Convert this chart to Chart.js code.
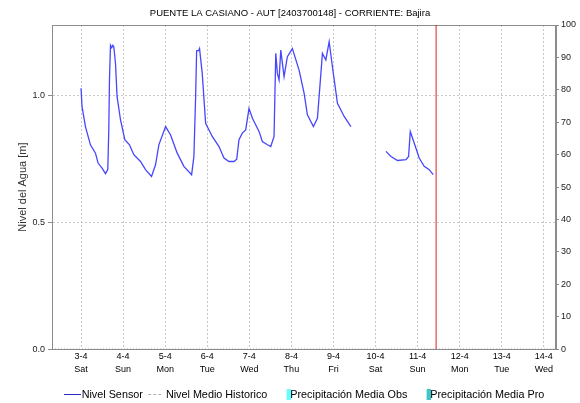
<!DOCTYPE html>
<html>
<head>
<meta charset="utf-8">
<title>Nivel Sensor - Puente La Casiano</title>
<script src="https://cdn.jsdelivr.net/npm/chart.js@4.4.1/dist/chart.umd.min.js"></script>
<style>
    html, body { margin: 0; padding: 0; background: #fff; }
    #chart-box { width: 580px; height: 403px; }
</style>
</head>
<body>
<div id="chart-box"><canvas id="nivelChart" width="580" height="403"></canvas></div>
<script>
// Etiquetas del eje X (un tick por dia, 0 = 3-4)
const dayLabels = ['3-4', '4-4', '5-4', '6-4', '7-4', '8-4', '9-4', '10-4', '11-4', '12-4', '13-4', '14-4'];
const weekDays = ['Sat', 'Sun', 'Mon', 'Tue', 'Wed', 'Thu', 'Fri', 'Sat', 'Sun', 'Mon', 'Tue', 'Wed'];
const dayMin = -0.69;
const dayMax = 11.29;

// Nivel sensor [m], x en dias desde 3-4
const sensorDays = [
    0.0, 0.024, 0.105, 0.224, 0.343, 0.405, 0.5, 0.581, 0.636, 0.66, 0.676, 0.7, 0.73, 0.755, 0.779, 0.819, 0.857, 0.938,
    1.04, 1.152, 1.255, 1.414, 1.533, 1.676, 1.771, 1.85, 2.01, 2.129, 2.286, 2.445, 2.629, 2.683, 2.724, 2.748, 2.80, 2.817,
    2.881, 2.962, 3.119, 3.279, 3.398, 3.517, 3.636, 3.70, 3.755, 3.833, 3.914, 3.993, 4.074, 4.231, 4.31, 4.431, 4.51, 4.588,
    4.629, 4.667, 4.707, 4.748, 4.826, 4.905, 5.024, 5.183, 5.302, 5.381, 5.524, 5.619, 5.738, 5.819, 5.898, 5.976, 6.095,
    6.255, 6.414, 6.8,
    7.248, 7.367, 7.524, 7.724, 7.786, 7.826, 7.921, 8.038, 8.157, 8.276, 8.371
];
const sensorLevels = [
    1.03, 0.958, 0.879, 0.807, 0.774, 0.735, 0.715, 0.693, 0.709, 0.866, 1.063, 1.20, 1.19, 1.20, 1.194, 1.129, 0.997, 0.906,
    0.827, 0.807, 0.768, 0.741, 0.709, 0.682, 0.728, 0.807, 0.879, 0.846, 0.774, 0.722, 0.689, 0.761, 0.997, 1.178, 1.18, 1.187,
    1.089, 0.892, 0.840, 0.800, 0.755, 0.741, 0.741, 0.75, 0.827, 0.853, 0.866, 0.951, 0.912, 0.860, 0.820, 0.807, 0.800, 0.840,
    1.168, 1.089, 1.063, 1.181, 1.076, 1.155, 1.187, 1.102, 1.011, 0.925, 0.879, 0.912, 1.168, 1.142, 1.214, 1.115, 0.971,
    0.919, 0.879, null,
    0.781, 0.761, 0.745, 0.748, 0.761, 0.859, 0.813, 0.755, 0.722, 0.709, 0.689
];

// Nivel medio historico [m]
const historicDays = [dayMin, dayMax];
const historicLevels = [0, 0];

// Precipitacion [mm] (sin datos en el periodo)
const precipObs = [];
const precipPro = [];

// Hora actual (linea roja)
const nowDay = 8.44;
const levelMax = 1.28;
const precipMax = 100;

const FONT = "'Liberation Sans', Arial, sans-serif";

function makeIcon(w, h, draw) {
    const c = document.createElement('canvas');
    c.width = w;
    c.height = h;
    draw(c.getContext('2d'));
    return c;
}

// iconos de 24px centrados en x+6; el hueco del icono va de x a x+18
const legendIcons = [
    makeIcon(24, 1, ctx => { ctx.fillStyle = '#2a2ad0'; ctx.fillRect(6, 0, 17, 1); }),
    makeIcon(24, 1, ctx => {
        ctx.fillStyle = '#b4b4b4';
        for (let i = 6; i < 20; i += 5) ctx.fillRect(i, 0, 3, 1);
    }),
    makeIcon(24, 11, ctx => { ctx.fillStyle = '#66ffff'; ctx.fillRect(20, 0, 4, 11); }),
    makeIcon(24, 11, ctx => { ctx.fillStyle = '#40c4c4'; ctx.fillRect(20, 0, 4, 11); })
];

// Marco del area de grafico
const framePlugin = {
    id: 'frame',
    beforeDatasetsDraw(chart) {
        const { ctx, chartArea: a } = chart;
        ctx.save();
        ctx.strokeStyle = '#8c8c8c';
        ctx.lineWidth = 1;
        ctx.strokeRect(Math.round(a.left) + 0.5, Math.round(a.top) + 0.5,
            Math.round(a.right - a.left) - 1, Math.round(a.bottom - a.top));
        ctx.restore();
    }
};

const ctx = document.getElementById('nivelChart').getContext('2d');
new Chart(ctx, {
    type: 'line',
    data: {
        datasets: [
            {
                label: 'Nivel Sensor',
                data: sensorDays.map((d, i) => ({ x: d, y: sensorLevels[i] })),
                borderColor: '#4646ff',
                borderWidth: 1.3,
                pointRadius: 0,
                tension: 0,
                spanGaps: false,
                yAxisID: 'y'
            },
            {
                label: 'Nivel Medio Historico',
                data: historicDays.map((d, i) => ({ x: d, y: historicLevels[i] })),
                borderColor: '#7a7a7a',
                borderWidth: 1,
                borderDash: [1, 2],
                pointRadius: 0,
                yAxisID: 'y'
            },
            {
                type: 'bar',
                label: 'Precipitación Media Obs',
                data: precipObs,
                backgroundColor: '#66ffff',
                yAxisID: 'y2'
            },
            {
                type: 'bar',
                label: 'Precipitación Media Pro',
                data: precipPro,
                backgroundColor: '#40c4c4',
                yAxisID: 'y2'
            },
            {
                label: '',
                data: [{ x: nowDay, y: 0 }, { x: nowDay, y: levelMax }],
                borderColor: '#e02020',
                borderWidth: 1,
                pointRadius: 0,
                yAxisID: 'y'
            }
        ]
    },
    options: {
        responsive: false,
        devicePixelRatio: 1,
        animation: false,
        layout: { padding: { left: 0, right: 0, top: 0, bottom: -7 } },
        plugins: {
            tooltip: { enabled: false },
            title: {
                display: true,
                text: 'PUENTE LA CASIANO - AUT [2403700148] - CORRIENTE: Bajira',
                color: '#000',
                font: { family: FONT, size: 9.5, weight: 'normal', lineHeight: 1.2 },
                padding: { top: 8, bottom: 5.6 }
            },
            legend: {
                position: 'bottom',
                fullSize: false,
                labels: {
                    usePointStyle: true,
                    pointStyleWidth: 12.6,
                    padding: 5,
                    color: '#000',
                    font: { family: FONT, size: 10.8 },
                    generateLabels: chart => chart.data.datasets
                        .map((ds, i) => ({
                            text: ds.label,
                            pointStyle: legendIcons[i],
                            datasetIndex: i,
                            fontColor: '#000',
                            hidden: false,
                            lineWidth: 0,
                            strokeStyle: 'transparent',
                            fillStyle: 'transparent'
                        }))
                        .filter(item => item.text)
                }
            }
        },
        scales: {
            x: {
                type: 'linear',
                min: dayMin,
                max: dayMax,
                offset: false,
                grid: { color: '#c8c8c8', drawTicks: false, offset: false },
                border: { display: false, dash: [2, 2] },
                ticks: {
                    stepSize: 1,
                    includeBounds: false,
                    autoSkip: false,
                    maxRotation: 0,
                    padding: 1,
                    color: '#000',
                    font: { family: FONT, size: 9, lineHeight: 1.4 },
                    callback: v => Number.isInteger(v) && dayLabels[v] ? [dayLabels[v], weekDays[v]] : ''
                },
                afterFit: scale => { scale.height = 35; }
            },
            y: {
                position: 'left',
                min: 0,
                max: levelMax,
                grid: { color: '#c8c8c8', tickColor: '#8c8c8c', tickLength: 4, tickBorderDash: [] },
                border: { color: '#8c8c8c', dash: [2, 2] },
                ticks: {
                    stepSize: 0.5,
                    includeBounds: false,
                    padding: 3,
                    color: '#222',
                    font: { family: FONT, size: 9 },
                    callback: v => v.toFixed(1)
                },
                title: {
                    display: true,
                    text: 'Nivel del Agua [m]',
                    color: '#333',
                    font: { family: FONT, size: 11 },
                    padding: { top: 16, bottom: 0 }
                },
                afterFit: scale => { scale.width = 52; }
            },
            y2: {
                position: 'right',
                min: 0,
                max: precipMax,
                grid: { drawOnChartArea: false, tickColor: '#8c8c8c', tickLength: 3 },
                border: { color: '#8c8c8c' },
                ticks: {
                    stepSize: 10,
                    padding: 2,
                    color: '#222',
                    font: { family: FONT, size: 9 }
                },
                afterFit: scale => { scale.width = 24; }
            }
        }
    },
    plugins: [framePlugin]
});
</script>
</body>
</html>
